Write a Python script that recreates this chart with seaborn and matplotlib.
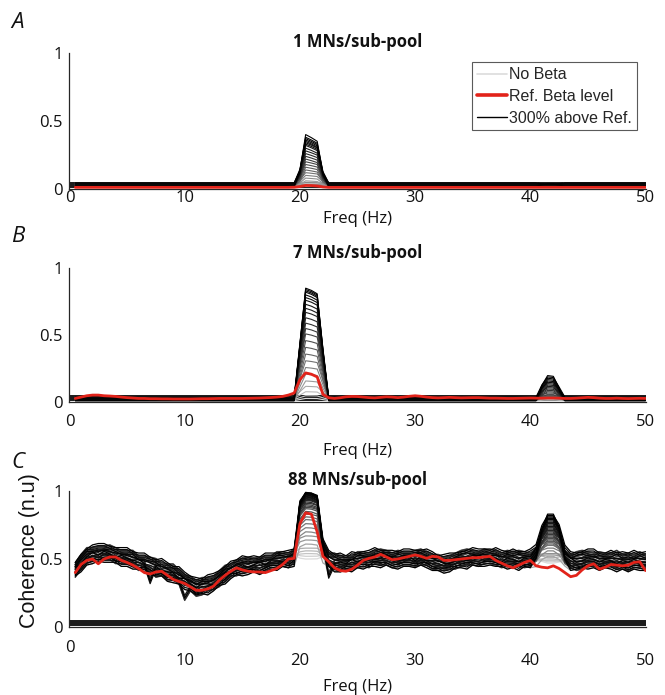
import numpy as np
import pandas as pd
import matplotlib
matplotlib.use("Agg")
import matplotlib.pyplot as plt
from matplotlib.lines import Line2D
import seaborn as sns

# ---------------------------------------------------------------- data
# frequency grid of the coherence estimates (Hz)
freq = np.arange(1, 101) * 0.5

# tick labels
x_ticks = [0, 10, 20, 30, 40, 50]
y_ticks = [0, 0.5, 1]
y_tick_labels = ["0", "0.5", "1"]

panel_titles = ["1 MNs/sub-pool", "7 MNs/sub-pool", "88 MNs/sub-pool"]
panel_letters = ["A", "B", "C"]
legend_labels = ["No Beta", "Ref. Beta level", "300% above Ref."]

# zero-coherence band drawn under every panel
band_freq = [0.0, 50.0]
band_coh = [0.032, 0.032]

# background coherence of the beta sweep (panels A and B are flat)
floor_a = [0.020, 0.028, 0.036, 0.044]
floor_b = [0.014, 0.022, 0.030, 0.040]

# panel C background variants
bg_c_mid = [0.43, 0.48, 0.52, 0.53, 0.54, 0.55, 0.54, 0.53, 0.52, 0.51,
            0.50, 0.48, 0.47, 0.46, 0.44, 0.43, 0.41, 0.39, 0.37, 0.34,
            0.32, 0.30, 0.30, 0.31, 0.33, 0.36, 0.39, 0.42, 0.44, 0.45,
            0.45, 0.46, 0.46, 0.47, 0.48, 0.49, 0.50, 0.50, 0.52, 0.53,
            0.53, 0.53, 0.52, 0.51, 0.50, 0.48, 0.47, 0.47, 0.48, 0.49,
            0.50, 0.50, 0.51, 0.51, 0.51, 0.50, 0.50, 0.50, 0.51, 0.51,
            0.51, 0.50, 0.49, 0.47, 0.46, 0.48, 0.49, 0.50, 0.50, 0.51,
            0.51, 0.52, 0.51, 0.51, 0.50, 0.50, 0.50, 0.49, 0.50, 0.50,
            0.50, 0.50, 0.50, 0.50, 0.49, 0.49, 0.49, 0.49, 0.49, 0.50,
            0.50, 0.49, 0.49, 0.49, 0.49, 0.48, 0.48, 0.49, 0.49, 0.48]
bg_c_hi = [0.46, 0.52, 0.57, 0.57, 0.58, 0.58, 0.59, 0.57, 0.55, 0.55,
           0.55, 0.51, 0.51, 0.50, 0.49, 0.46, 0.45, 0.45, 0.41, 0.37,
           0.36, 0.33, 0.35, 0.35, 0.36, 0.40, 0.44, 0.45, 0.48, 0.49,
           0.50, 0.49, 0.50, 0.51, 0.51, 0.54, 0.54, 0.53, 0.56, 0.57,
           0.57, 0.57, 0.56, 0.55, 0.53, 0.53, 0.51, 0.51, 0.51, 0.54,
           0.54, 0.53, 0.55, 0.56, 0.55, 0.53, 0.55, 0.54, 0.54, 0.55,
           0.56, 0.54, 0.52, 0.52, 0.50, 0.51, 0.53, 0.55, 0.56, 0.55,
           0.54, 0.56, 0.56, 0.55, 0.53, 0.55, 0.54, 0.55, 0.54, 0.53,
           0.54, 0.54, 0.54, 0.54, 0.54, 0.53, 0.52, 0.54, 0.55, 0.54,
           0.53, 0.54, 0.53, 0.53, 0.55, 0.52, 0.53, 0.52, 0.54, 0.52]
bg_c_hi2 = [0.45, 0.51, 0.55, 0.58, 0.59, 0.59, 0.57, 0.56, 0.56, 0.56,
            0.53, 0.52, 0.52, 0.49, 0.47, 0.48, 0.45, 0.42, 0.42, 0.38,
            0.35, 0.34, 0.33, 0.36, 0.37, 0.39, 0.42, 0.46, 0.47, 0.50,
            0.49, 0.50, 0.49, 0.52, 0.52, 0.52, 0.53, 0.54, 0.55, 0.56,
            0.56, 0.56, 0.57, 0.54, 0.54, 0.51, 0.52, 0.50, 0.53, 0.52,
            0.53, 0.54, 0.56, 0.54, 0.54, 0.54, 0.53, 0.55, 0.55, 0.54,
            0.54, 0.55, 0.53, 0.50, 0.51, 0.52, 0.52, 0.53, 0.54, 0.56,
            0.55, 0.55, 0.54, 0.56, 0.54, 0.53, 0.55, 0.53, 0.53, 0.55,
            0.53, 0.55, 0.53, 0.53, 0.53, 0.54, 0.53, 0.52, 0.53, 0.55,
            0.55, 0.52, 0.52, 0.54, 0.52, 0.53, 0.52, 0.54, 0.52, 0.53]
bg_c_lo = [0.38, 0.44, 0.48, 0.50, 0.49, 0.51, 0.51, 0.48, 0.48, 0.48,
           0.46, 0.43, 0.44, 0.42, 0.38, 0.39, 0.36, 0.36, 0.33, 0.21,
           0.28, 0.24, 0.25, 0.28, 0.29, 0.31, 0.35, 0.39, 0.39, 0.41,
           0.42, 0.42, 0.41, 0.43, 0.45, 0.45, 0.46, 0.45, 0.49, 0.49,
           0.49, 0.48, 0.48, 0.48, 0.46, 0.44, 0.42, 0.44, 0.44, 0.45,
           0.46, 0.45, 0.48, 0.47, 0.47, 0.45, 0.46, 0.47, 0.47, 0.46,
           0.47, 0.47, 0.44, 0.43, 0.43, 0.44, 0.44, 0.46, 0.47, 0.47,
           0.46, 0.48, 0.48, 0.47, 0.45, 0.46, 0.46, 0.46, 0.45, 0.46,
           0.46, 0.46, 0.45, 0.46, 0.44, 0.45, 0.45, 0.43, 0.44, 0.46,
           0.46, 0.44, 0.45, 0.46, 0.44, 0.44, 0.43, 0.45, 0.45, 0.43]
bg_c_lo2 = [0.40, 0.43, 0.48, 0.49, 0.51, 0.50, 0.50, 0.50, 0.47, 0.47,
            0.45, 0.45, 0.43, 0.41, 0.40, 0.40, 0.36, 0.35, 0.34, 0.30,
            0.29, 0.26, 0.27, 0.26, 0.29, 0.33, 0.34, 0.38, 0.41, 0.40,
            0.41, 0.43, 0.41, 0.43, 0.45, 0.44, 0.47, 0.46, 0.47, 0.50,
            0.49, 0.50, 0.48, 0.46, 0.47, 0.43, 0.43, 0.44, 0.43, 0.46,
            0.45, 0.47, 0.47, 0.46, 0.48, 0.46, 0.45, 0.47, 0.47, 0.46,
            0.48, 0.46, 0.44, 0.44, 0.42, 0.43, 0.46, 0.46, 0.45, 0.48,
            0.47, 0.47, 0.48, 0.47, 0.47, 0.45, 0.46, 0.44, 0.47, 0.46,
            0.45, 0.46, 0.47, 0.45, 0.45, 0.46, 0.44, 0.45, 0.46, 0.45,
            0.46, 0.44, 0.46, 0.45, 0.43, 0.45, 0.43, 0.45, 0.44, 0.44]
bg_c_alt = [0.44, 0.47, 0.52, 0.55, 0.53, 0.56, 0.54, 0.51, 0.53, 0.51,
            0.49, 0.50, 0.47, 0.34, 0.45, 0.41, 0.41, 0.40, 0.36, 0.36,
            0.32, 0.29, 0.32, 0.32, 0.31, 0.36, 0.40, 0.41, 0.44, 0.46,
            0.44, 0.46, 0.48, 0.46, 0.49, 0.49, 0.48, 0.51, 0.52, 0.52,
            0.54, 0.53, 0.51, 0.53, 0.38, 0.47, 0.48, 0.47, 0.50, 0.48,
            0.50, 0.51, 0.50, 0.51, 0.53, 0.51, 0.49, 0.50, 0.52, 0.49,
            0.52, 0.49, 0.49, 0.49, 0.47, 0.47, 0.49, 0.51, 0.49, 0.51,
            0.53, 0.51, 0.52, 0.51, 0.48, 0.51, 0.50, 0.48, 0.51, 0.50,
            0.49, 0.51, 0.50, 0.51, 0.48, 0.49, 0.51, 0.48, 0.49, 0.51,
            0.50, 0.48, 0.50, 0.49, 0.47, 0.49, 0.48, 0.50, 0.48, 0.48]
# vertical shift of each beta level's curve in panel C
offsets_c = [0.012, -0.018, 0.024, -0.006, 0.000, -0.024, 0.018, -0.012,
             0.006, 0.021, -0.021, 0.009, -0.009, 0.015, -0.015, 0.003,
             -0.003, 0.024, -0.024, 0.012, -0.012, 0.018, -0.018, 0.006,
             -0.006, 0.000, 0.021, -0.021, 0.009, -0.009, 0.015, -0.015,
             0.003, -0.003, 0.024, -0.024]

# peak coherence at the beta frequency (~21 Hz) and its harmonic (~42 Hz),
# one value per beta level, from "No Beta" up to "300% above Ref."
peak20_a = [0.02, 0.03, 0.04, 0.05, 0.06, 0.08, 0.10, 0.12, 0.14, 0.16,
            0.18, 0.20, 0.22, 0.24, 0.26, 0.28, 0.30, 0.32, 0.33, 0.34,
            0.35, 0.36, 0.37, 0.38, 0.40]
peak42_a = [0.02, 0.02, 0.02, 0.02, 0.02, 0.02, 0.02, 0.02, 0.02, 0.02,
            0.02, 0.02, 0.02, 0.02, 0.025, 0.025, 0.025, 0.03, 0.03, 0.03,
            0.03, 0.035, 0.035, 0.035, 0.04]
peak20_b = [0.03, 0.05, 0.08, 0.12, 0.16, 0.21, 0.26, 0.31, 0.36, 0.41,
            0.46, 0.51, 0.55, 0.59, 0.63, 0.67, 0.70, 0.73, 0.76, 0.78,
            0.80, 0.82, 0.83, 0.84, 0.85]
peak42_b = [0.02, 0.02, 0.02, 0.03, 0.03, 0.03, 0.04, 0.04, 0.05, 0.05,
            0.06, 0.07, 0.08, 0.09, 0.10, 0.11, 0.12, 0.13, 0.14, 0.15,
            0.16, 0.17, 0.18, 0.19, 0.20]
peak20_c = [0.50, 0.52, 0.54, 0.56, 0.58, 0.61, 0.64, 0.67, 0.70, 0.73,
            0.76, 0.79, 0.81, 0.83, 0.85, 0.87, 0.88, 0.89, 0.90, 0.91,
            0.92, 0.93, 0.935, 0.94, 0.945, 0.95, 0.955, 0.96, 0.965,
            0.97, 0.975, 0.98, 0.982, 0.985, 0.988, 0.99]
peak42_c = [0.47, 0.48, 0.49, 0.50, 0.51, 0.52, 0.53, 0.54, 0.56, 0.58,
            0.60, 0.61, 0.62, 0.63, 0.64, 0.65, 0.66, 0.67, 0.68, 0.69,
            0.70, 0.71, 0.72, 0.73, 0.74, 0.75, 0.76, 0.77, 0.78, 0.79,
            0.80, 0.80, 0.81, 0.82, 0.82, 0.83]

# relative peak profiles: 20.0-22.0 Hz and 40.5-43.0 Hz (0.5 Hz steps)
beta_freqs = [20.0, 20.5, 21.0, 21.5, 22.0]
gamma_freqs = [40.5, 41.0, 41.5, 42.0, 42.5, 43.0]
beta_prof_a = [0.30, 1.00, 0.94, 0.87, 0.25]
beta_prof_b = [0.50, 1.00, 0.98, 0.95, 0.45]
beta_prof_c = [0.85, 1.00, 0.99, 0.95, 0.20]
gamma_prof_a = [0.00, 0.60, 1.00, 0.97, 0.50, 0.00]
gamma_prof_b = [0.00, 0.60, 1.00, 0.97, 0.50, 0.00]
gamma_prof_c = [0.20, 0.70, 1.00, 1.00, 0.75, 0.15]

# reference beta level (red)
ref_a = [0.012, 0.012, 0.012, 0.012, 0.012, 0.012, 0.012, 0.012, 0.012, 0.012,
         0.012, 0.012, 0.012, 0.012, 0.012, 0.012, 0.012, 0.012, 0.012, 0.012,
         0.012, 0.012, 0.012, 0.012, 0.012, 0.012, 0.012, 0.012, 0.012, 0.012,
         0.012, 0.012, 0.012, 0.012, 0.012, 0.012, 0.012, 0.012, 0.013, 0.018,
         0.026, 0.025, 0.022, 0.015, 0.012, 0.012, 0.012, 0.012, 0.012, 0.012,
         0.012, 0.012, 0.012, 0.012, 0.012, 0.012, 0.012, 0.012, 0.012, 0.012,
         0.012, 0.012, 0.012, 0.012, 0.012, 0.012, 0.012, 0.012, 0.012, 0.012,
         0.012, 0.012, 0.012, 0.012, 0.012, 0.012, 0.012, 0.012, 0.012, 0.012,
         0.012, 0.012, 0.012, 0.012, 0.012, 0.012, 0.012, 0.012, 0.012, 0.012,
         0.012, 0.012, 0.012, 0.012, 0.012, 0.012, 0.012, 0.012, 0.012, 0.012]
ref_b = [0.030, 0.040, 0.050, 0.055, 0.055, 0.050, 0.048, 0.045, 0.040, 0.036,
         0.033, 0.030, 0.030, 0.028, 0.028, 0.027, 0.027, 0.026, 0.026, 0.026,
         0.026, 0.027, 0.028, 0.028, 0.029, 0.030, 0.030, 0.030, 0.030, 0.030,
         0.031, 0.032, 0.033, 0.035, 0.037, 0.040, 0.045, 0.055, 0.070, 0.170,
         0.220, 0.210, 0.190, 0.060, 0.035, 0.030, 0.035, 0.042, 0.045, 0.044,
         0.040, 0.036, 0.034, 0.038, 0.042, 0.040, 0.036, 0.040, 0.046, 0.050,
         0.046, 0.040, 0.036, 0.034, 0.036, 0.038, 0.036, 0.034, 0.035, 0.036,
         0.036, 0.034, 0.032, 0.032, 0.031, 0.030, 0.030, 0.031, 0.032, 0.033,
         0.032, 0.032, 0.033, 0.033, 0.032, 0.030, 0.030, 0.032, 0.035, 0.038,
         0.036, 0.032, 0.030, 0.030, 0.032, 0.030, 0.029, 0.030, 0.031, 0.030]
ref_c = [0.40, 0.46, 0.49, 0.50, 0.465, 0.50, 0.515, 0.515, 0.49, 0.475,
         0.455, 0.43, 0.40, 0.39, 0.405, 0.41, 0.38, 0.35, 0.335, 0.32,
         0.295, 0.27, 0.27, 0.28, 0.30, 0.345, 0.38, 0.41, 0.435, 0.42,
         0.41, 0.405, 0.405, 0.40, 0.415, 0.43, 0.46, 0.50, 0.505, 0.76,
         0.84, 0.83, 0.70, 0.52, 0.48, 0.435, 0.415, 0.41, 0.425, 0.455,
         0.49, 0.505, 0.515, 0.535, 0.515, 0.495, 0.50, 0.51, 0.52, 0.53,
         0.52, 0.505, 0.52, 0.515, 0.49, 0.49, 0.495, 0.50, 0.505, 0.51,
         0.51, 0.515, 0.52, 0.49, 0.47, 0.45, 0.435, 0.455, 0.475, 0.49,
         0.45, 0.44, 0.435, 0.45, 0.43, 0.40, 0.37, 0.38, 0.42, 0.45,
         0.465, 0.425, 0.44, 0.46, 0.455, 0.45, 0.455, 0.475, 0.48, 0.415]

# ---------------------------------------------------------------- helpers
RED = "#e2231a"
AXIS = "#262626"
TEXT = "#111111"
SANS = ["Open Sans", "DejaVu Sans"]
ARIAL = ["Liberation Sans", "DejaVu Sans"]


def grays_for(n):
    t = np.linspace(0.0, 1.0, n)
    return [(g, g, g) for g in 0.86 * (1.0 - t) ** 1.9]


def idx(freqs):
    return [int(round(f / 0.5)) - 1 for f in freqs]


def sweep(backgrounds, peak20, peak42, prof20, prof42, offsets=None):
    """Long table of the beta-level sweep: one curve per level."""
    frames = []
    i20, i42 = idx(beta_freqs), idx(gamma_freqs)
    for j in range(len(peak20)):
        bg = backgrounds[j % len(backgrounds)]
        base = np.full(freq.size, bg) if np.isscalar(bg) else np.asarray(bg, float)
        if offsets is not None:
            base = base + offsets[j]
        y = base.copy()
        y[i20] = base[i20] + (peak20[j] - base[i20]) * np.asarray(prof20)
        y[i42] = base[i42] + (peak42[j] - base[i42]) * np.asarray(prof42)
        frames.append(pd.DataFrame({"freq": freq, "coherence": y, "level": j}))
    return pd.concat(frames, ignore_index=True)


sns.set_style("white")
plt.rcParams["font.family"] = SANS
plt.rcParams["axes.linewidth"] = 0.9

fig = plt.figure(figsize=(6.65, 6.95), dpi=100)

rects = [[0.1045, 0.7281, 0.8662, 0.1957],
         [0.1045, 0.4209, 0.8662, 0.1935],
         [0.1045, 0.0978, 0.8662, 0.1957]]
sweeps = [sweep(floor_a, peak20_a, peak42_a, beta_prof_a, gamma_prof_a),
          sweep(floor_b, peak20_b, peak42_b, beta_prof_b, gamma_prof_b),
          sweep([bg_c_mid, bg_c_hi, bg_c_lo, bg_c_alt, bg_c_hi2, bg_c_lo2],
                peak20_c, peak42_c, beta_prof_c, gamma_prof_c, offsets_c)]
n_curves = [len(peak20_a), len(peak20_b), len(peak20_c)]
line_widths = [0.8, 0.8, 0.9]
refs = [ref_a, ref_b, ref_c]
title_pads = [4, 7, 4]
tick_pads = [1, 8, 19]
label_pads = [3, 10, 7]
letter_y = [22, 237, 462]

for k in range(3):
    ax = fig.add_axes(rects[k])
    sns.lineplot(x=band_freq, y=band_coh, color="#1c1c1c", linewidth=4.3,
                 ax=ax, zorder=1)
    sns.lineplot(data=sweeps[k], x="freq", y="coherence", hue="level",
                 palette=grays_for(n_curves[k]), estimator=None, sort=False,
                 legend=False, linewidth=line_widths[k], ax=ax, zorder=2)
    sns.lineplot(x=freq, y=refs[k], color=RED, linewidth=2.0, ax=ax, zorder=3)

    ax.set_xlim(0, 50)
    ax.set_ylim(0, 1)
    ax.set_xticks(x_ticks)
    ax.set_yticks(y_ticks)
    ax.set_yticklabels(y_tick_labels)
    ax.set_axisbelow(False)
    for side in ("top", "right"):
        ax.spines[side].set_visible(False)
    for side in ("left", "bottom"):
        ax.spines[side].set_color(AXIS)
        ax.spines[side].set_linewidth(0.9)
    ax.tick_params(direction="in", length=4, width=0.9, color="#b5b5b5",
                   labelsize=12, labelcolor=TEXT)
    ax.tick_params(axis="x", pad=tick_pads[k])
    ax.tick_params(axis="y", pad=5)
    ax.set_xlabel("Freq (Hz)", fontsize=12, color=TEXT,
                  labelpad=label_pads[k])
    ax.set_ylabel("")
    ax.set_title(panel_titles[k], fontsize=12, fontweight="bold",
                 color=TEXT, pad=title_pads[k])
    fig.text(18 / 665, 1 - letter_y[k] / 695, panel_letters[k],
             fontsize=16, style="italic", ha="center", va="center",
             color=TEXT)
    if k == 2:
        ax.xaxis.get_major_ticks()[0].set_pad(9)
    if k == 0:
        handles = [Line2D([], [], color="#dcdcdc", linewidth=1.2),
                   Line2D([], [], color=RED, linewidth=2.6),
                   Line2D([], [], color="black", linewidth=1.0)]
        leg = ax.legend(handles, legend_labels, loc="upper right",
                        bbox_to_anchor=(0.985, 0.93), frameon=True,
                        fancybox=False, framealpha=1, edgecolor="#5a5a5a",
                        prop={"family": ARIAL, "size": 11.5},
                        handlelength=1.9, handletextpad=0.12,
                        borderpad=0.3, labelspacing=0.42, borderaxespad=0)
        leg.get_frame().set_linewidth(0.8)

fig.text(30 / 665, 1 - 551 / 695, "Coherence (n.u)", rotation=90,
         fontsize=15.5, ha="center", va="center", color=TEXT, family=ARIAL)

fig.savefig("out.png", dpi=100)
